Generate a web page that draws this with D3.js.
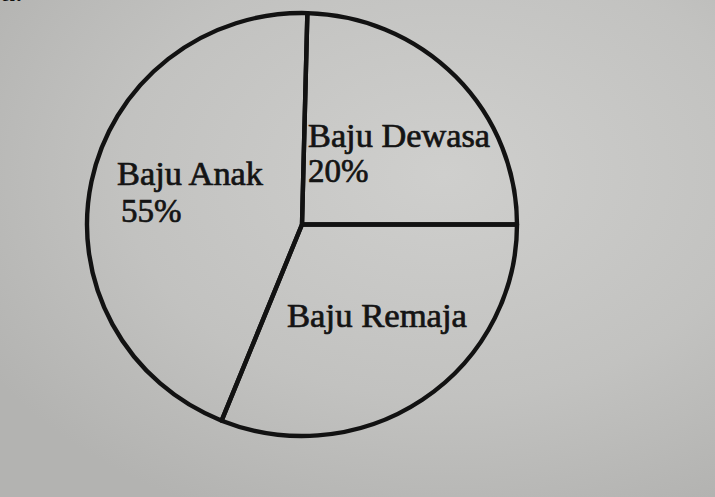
<!DOCTYPE html>
<html>
<head>
<meta charset="utf-8">
<script src="https://cdn.jsdelivr.net/npm/d3@7"></script>
<style>
  html, body { margin: 0; padding: 0; background: #bebebc; }
  svg { display: block; }
</style>
</head>
<body>
<div id="chart"></div>
<script>
// Categories in drawing order (clockwise from the top)
const categories = ["Baju Dewasa", "Baju Remaja", "Baju Anak"];
// Share of the circle each slice occupies as drawn in the picture (%)
const drawnShares = [24.6, 31.1, 44.3];
// Percentage labels printed in the picture ("" = not printed)
const percentLabels = ["20%", "", "55%"];

const W = 715, H = 497;
const svg = d3.select("#chart").append("svg")
  .attr("width", W).attr("height", H);

// paper background
const defs = svg.append("defs");
const grad = defs.append("radialGradient").attr("id", "paper")
  .attr("cx", "0.62").attr("cy", "0.35").attr("r", "0.75");
grad.append("stop").attr("offset", "0").attr("stop-color", "#cfcfcd");
grad.append("stop").attr("offset", "0.6").attr("stop-color", "#c2c2c0");
grad.append("stop").attr("offset", "1").attr("stop-color", "#b3b3b1");
svg.append("rect").attr("width", W).attr("height", H).attr("fill", "url(#paper)");

const font = "Liberation Serif, Times New Roman, serif";

// partial text cut off at the top-left edge, as in the photographed page
svg.append("text").attr("x", -9).attr("y", 1)
  .attr("font-family", font)
  .attr("font-size", 33).attr("fill", "#111").text("ja.");

const cx = 302, cy = 224.5, R = 215, sy = 211.5 / 215;

const g = svg.append("g")
  .attr("transform", `translate(${cx},${cy}) scale(1,${sy})`);

const pie = d3.pie().sort(null)
  .startAngle(0.025).endAngle(0.025 + 2 * Math.PI)
  .value(d => d.v);
const data = categories.map((c, i) => ({ c, v: drawnShares[i] }));
const arcs = pie(data);

const arc = d3.arc().innerRadius(0).outerRadius(R);

g.selectAll("path.slice").data(arcs).join("path")
  .attr("class", "slice")
  .attr("d", arc)
  .attr("fill", "none")
  .attr("stroke", "#121212")
  .attr("stroke-width", 4.4)
  .attr("stroke-linejoin", "round");

const labelPos = [
  { x: 308, y: 147, x2: 308, y2: 182 },   // Dewasa
  { x: 287, y: 327 },                     // Remaja
  { x: 117, y: 185, x2: 121, y2: 222 }    // Anak
];
const lg = svg.append("g").attr("font-family", font).attr("font-size", 33)
  .attr("fill", "#141414").attr("stroke", "#141414").attr("stroke-width", 0.7);
arcs.forEach((a, i) => {
  const p = labelPos[i];
  lg.append("text").attr("x", p.x).attr("y", p.y)
    .attr("textLength", [182, 180, 146][i]).attr("lengthAdjust", "spacingAndGlyphs")
    .text(categories[i]);
  if (percentLabels[i]) {
    lg.append("text").attr("x", p.x2).attr("y", p.y2).text(percentLabels[i]);
  }
});
</script>
</body>
</html>
